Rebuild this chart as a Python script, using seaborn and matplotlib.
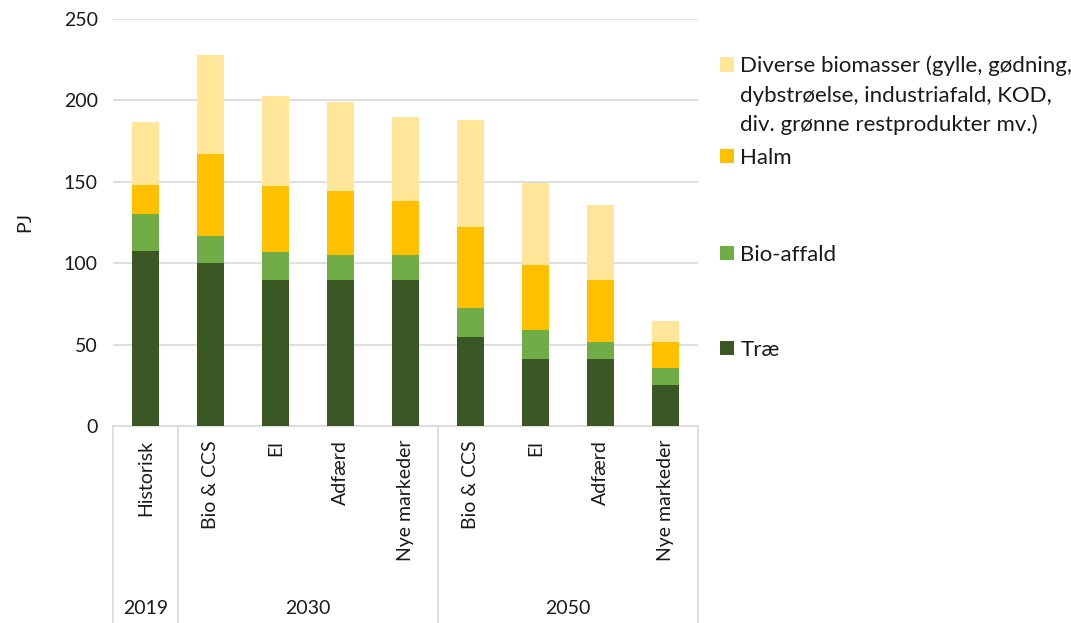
import matplotlib
matplotlib.use("Agg")
import matplotlib.pyplot as plt
import matplotlib.transforms as mtransforms
from matplotlib.patches import Patch
import seaborn as sns
import numpy as np
import pandas as pd

# ---- data ----
years = ["2019", "2030", "2030", "2030", "2030", "2050", "2050", "2050", "2050"]
scenarios = ["Historisk", "Bio & CCS", "El", "Adfærd", "Nye markeder",
             "Bio & CCS", "El", "Adfærd", "Nye markeder"]
trae = [107.3, 100.0, 89.7, 89.7, 89.7, 54.5, 41.2, 41.2, 25.0]
bio_affald = [22.7, 16.9, 17.2, 15.3, 15.3, 18.0, 17.6, 10.6, 10.4]
halm = [17.8, 50.0, 40.3, 39.3, 33.0, 49.9, 39.9, 38.1, 16.0]
diverse = [39.2, 61.2, 55.7, 54.9, 51.6, 65.4, 50.8, 45.6, 12.9]
y_ticks = [0, 50, 100, 150, 200, 250]

series_names = ["Træ", "Bio-affald", "Halm",
                ["Diverse biomasser (gylle, gødning,",
                 "dybstrøelse, industriafald, KOD,",
                 "div. grønne restprodukter mv.)"]]
colors = ["#3A5724", "#70AD47", "#FFC000", "#FFE699"]

sns.set_theme(style="white")
plt.rcParams["font.family"] = ["Lato", "DejaVu Sans"]
FS = 14
LFS = 16
TXT = "#1a1a1a"

keys = [f"{y} {s} {i}" for i, (y, s) in enumerate(zip(years, scenarios))]
df = pd.DataFrame({"key": keys, "Træ": trae, "Bio-affald": bio_affald,
                   "Halm": halm, "Diverse": diverse})
cols = ["Træ", "Bio-affald", "Halm", "Diverse"]
cum = df[cols].cumsum(axis=1)

fig = plt.figure(figsize=(10.71, 6.23), dpi=100)
ax = fig.add_axes([113 / 1071, 1 - 426 / 623, (698 - 113) / 1071, (426 - 19) / 623])

# draw from top layer down so stacked look
for col, c in zip(reversed(cols), reversed(colors)):
    sns.barplot(x=df["key"], y=cum[col], order=keys, color=c, width=0.41,
                saturation=1, edgecolor="none", ax=ax, zorder=3)

ax.set_ylim(0, 250)
ax.set_xlim(-0.5, len(keys) - 0.5)
ax.set_yticks(y_ticks)
ax.set_yticklabels([str(v) for v in y_ticks], fontsize=FS, color=TXT)
ax.yaxis.grid(True, color="#D9D9D9", linewidth=1.2, zorder=0)
ax.set_axisbelow(True)
ax.tick_params(axis="y", length=0, pad=11)
ax.tick_params(axis="x", length=0, pad=10)
ax.set_xticks(range(len(keys)))
ax.set_xticklabels(scenarios, rotation=90, fontsize=FS, va="top", ha="center", color=TXT)
ax.set_xlabel("")
ax.set_ylabel("PJ", fontsize=FS, labelpad=22, color=TXT)

for s in ["left", "right", "top"]:
    ax.spines[s].set_visible(False)
ax.spines["bottom"].set_color("#D9D9D9")
ax.spines["bottom"].set_linewidth(1.2)

# group separators and labels
trans = mtransforms.blended_transform_factory(ax.transData, ax.transAxes)
ybot = -(623 - 426) / (426 - 19)
for xb in [-0.5, 0.5, 4.5, 8.5]:
    ax.plot([xb, xb], [0, ybot], transform=trans, color="#D9D9D9",
            linewidth=1.2, clip_on=False)
ylab = -(608 - 426) / (426 - 19)
for label, xc in [("2019", 0), ("2030", 2.5), ("2050", 6.5)]:
    ax.text(xc, ylab, label, transform=trans, ha="center", va="center",
            fontsize=FS, color=TXT)

# legend entries (separately placed)
legend_pos = [(0, 350), (1, 255), (2, 158), (3, 66)]
div_leg = None
for idx, ypx in legend_pos:
    name = series_names[idx]
    lab = name[0] if isinstance(name, list) else name
    leg = fig.legend(handles=[Patch(facecolor=colors[idx], edgecolor="none")],
                     labels=[lab], loc="center left",
                     bbox_to_anchor=(716 / 1071, 1 - ypx / 623),
                     frameon=False, fontsize=LFS, handlelength=0.6, handleheight=0.6,
                     handletextpad=0.3, borderpad=0.2, borderaxespad=0.0,
                     labelcolor=TXT)
    if isinstance(name, list):
        div_leg = leg

fig.canvas.draw()
t0 = div_leg.get_texts()[0]
bb = t0.get_window_extent()
x0 = bb.x0 / fig.bbox.width
for k, line in enumerate(series_names[3][1:], start=1):
    ypx = 66 + 29.5 * k
    fig.text(x0, 1 - ypx / 623, line, ha="left", va="center", fontsize=LFS, color=TXT)

fig.savefig("out.png", dpi=100)
